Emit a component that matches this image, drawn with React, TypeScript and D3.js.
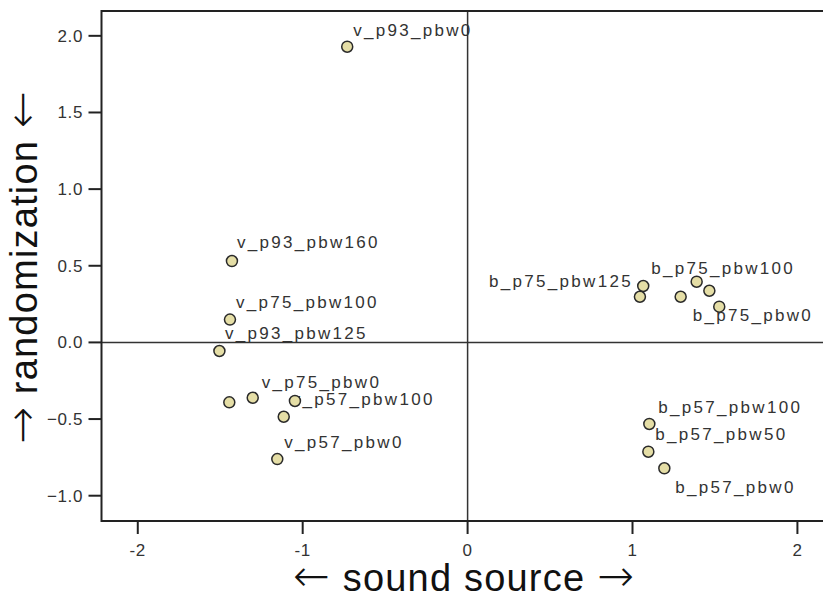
import React from "react";
import * as d3 from "d3";

// ---- data ----
const pointNames = [
  "v_p93_pbw0", "v_p93_pbw160", "v_p75_pbw100", "v_p93_pbw125", "v_p93_pbw100",
  "v_p75_pbw0", "v_p57_pbw50", "v_p57_pbw100", "v_p57_pbw0",
  "b_p75_pbw100", "b_p75_pbw125", "b_p75_pbw50", "b_p75_pbw160", "b_p75_pbw75",
  "b_p75_pbw0", "b_p57_pbw100", "b_p57_pbw50", "b_p57_pbw0",
];
const soundSource = [
  -0.73, -1.429, -1.441, -1.505, -1.445,
  -1.303, -1.047, -1.115, -1.154,
  1.065, 1.045, 1.292, 1.389, 1.466,
  1.526, 1.102, 1.096, 1.193,
];
const randomization = [
  1.929, 0.531, 0.149, -0.056, -0.391,
  -0.361, -0.382, -0.485, -0.761,
  0.368, 0.298, 0.298, 0.396, 0.337,
  0.233, -0.532, -0.713, -0.821,
];
// which points show their label in the chart
const labelShown = [
  true, true, true, true, false,
  true, false, true, true,
  true, true, false, false, false,
  true, true, true, true,
];
// label placement (offset from point, px) and anchor
const labelDx = [6, 5, 6, 5.5, 0, 9, 0, 8, 7, 8, -7, 0, 0, 0, -26.6, 9, 7, 11];
const labelDy = [-11, -13, -11.5, -12, 0, -10, 0, -12, -11, -12, -10, 0, 0, 0, 14.3, -11, -12, 25];
const labelAnchor = [
  "start", "start", "start", "start", "start", "start", "start", "start", "start",
  "start", "end", "start", "start", "start", "start", "start", "start", "start",
];

const xTicks = [-2, -1, 0, 1, 2];
const yTicks = [-1.0, -0.5, 0.0, 0.5, 1.0, 1.5, 2.0];
const xTitleParts = ["\u2190", " sound source ", "\u2192"];
const yTitleParts = ["\u2192", " randomization ", "\u2190"];

const W = 823;
const H = 596;
const left = 101.5;
const top = 11;
const bottom = 521;
const right = 830.4;

const FONT = "'Liberation Sans', Arial, sans-serif";
const ARROW_FONT = "'DejaVu Sans', sans-serif";

function Title({ parts }: { parts: string[] }) {
  return (
    <>
      <tspan fontFamily={ARROW_FONT} fontSize={44} fontWeight={200}>{parts[0]}</tspan>
      <tspan>{parts[1]}</tspan>
      <tspan fontFamily={ARROW_FONT} fontSize={44} fontWeight={200}>{parts[2]}</tspan>
    </>
  );
}

export default function App() {
  const x = d3.scaleLinear().domain([-2.22, 2.2]).range([left, right]);
  const y = d3.scaleLinear().domain([-1.165, 2.162]).range([bottom, top]);
  const fmtY = d3.format(".1f");

  const idx = d3.range(pointNames.length);

  return (
    <svg
      width={W}
      height={H}
      style={{ position: "absolute", left: 0, top: 0, background: "#fff" }}
      fontFamily={FONT}
    >
      <rect x={0} y={0} width={W} height={H} fill="#fff" />
      {/* labels */}
      {idx.filter((i) => labelShown[i]).map((i) => (
        <text
          key={"l" + i}
          x={x(soundSource[i]) + labelDx[i]}
          y={y(randomization[i]) + labelDy[i]}
          textAnchor={labelAnchor[i]}
          fontSize={17}
          letterSpacing={2.3}
          fill="#333"
        >
          {pointNames[i]}
        </text>
      ))}
      {/* zero reference lines */}
      <line x1={x(0)} x2={x(0)} y1={top} y2={bottom} stroke="#333" strokeWidth={1.5} />
      <line x1={left} x2={right} y1={y(0)} y2={y(0)} stroke="#333" strokeWidth={1.5} />
      {/* points */}
      {idx.map((i) => (
        <circle
          key={"p" + i}
          cx={x(soundSource[i])}
          cy={y(randomization[i])}
          r={5.5}
          fill="#e5dea6"
          stroke="#2a2a2a"
          strokeWidth={1.5}
        />
      ))}
      {/* frame */}
      <path
        d={`M${right},${top}H${left}V${bottom}H${right}`}
        fill="none"
        stroke="#222"
        strokeWidth={2}
      />
      {/* x axis ticks */}
      {xTicks.map((t) => (
        <g key={"xt" + t}>
          <line x1={x(t)} x2={x(t)} y1={bottom} y2={bottom + 13} stroke="#222" strokeWidth={2} />
          <text x={x(t)} y={556} textAnchor="middle" fontSize={17} letterSpacing={0.6} fill="#333">
            {t}
          </text>
        </g>
      ))}
      {/* y axis ticks */}
      {yTicks.map((t) => (
        <g key={"yt" + t}>
          <line x1={left - 13} x2={left} y1={y(t)} y2={y(t)} stroke="#222" strokeWidth={2} />
          <text x={83} y={y(t) + 6} textAnchor="end" fontSize={17} letterSpacing={0.6} fill="#333">
            {fmtY(t)}
          </text>
        </g>
      ))}
      {/* axis titles */}
      <text x={464} y={591} textAnchor="middle" fontSize={38} letterSpacing={1.2} fill="#111">
        <Title parts={xTitleParts} />
      </text>
      <text
        transform={`translate(37,267) rotate(-90)`}
        textAnchor="middle"
        fontSize={38}
        letterSpacing={1.2}
        fill="#111"
      >
        <Title parts={yTitleParts} />
      </text>
    </svg>
  );
}
